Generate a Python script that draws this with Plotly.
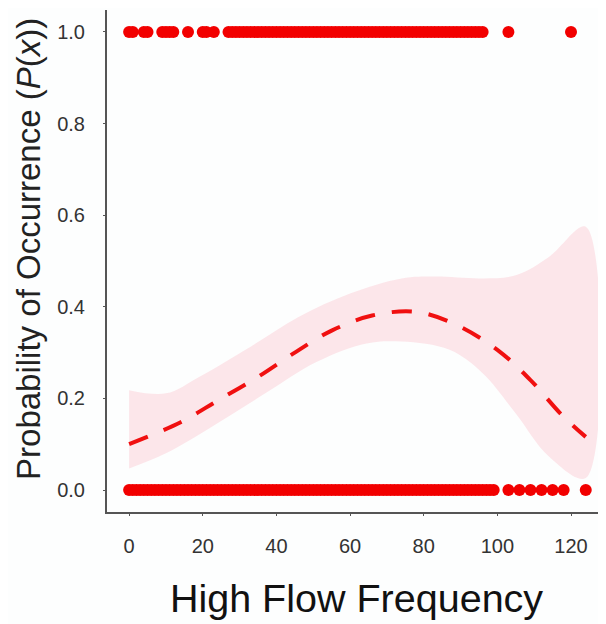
import plotly.graph_objects as go

# Observed presences (y=1) and absences (y=0)
presence_x = [0, 1, 4, 5, 9, 10, 11, 12, 16, 20, 21, 23] + list(range(27, 97)) + [103, 120]
absence_x = list(range(0, 100)) + [103, 106, 109, 112, 115, 118, 124]

# Fitted probability curve and confidence band
fit_x = [0, 14, 24, 35, 45, 55, 66, 78, 89, 100, 109, 117.5, 124]
fit_y = [0.10, 0.148, 0.195, 0.247, 0.300, 0.348, 0.381, 0.389, 0.360, 0.306, 0.240, 0.164, 0.116]

band_x = [0, 10, 19, 33, 46, 60, 74, 83, 96, 105, 114, 124]
band_upper = [0.218, 0.211, 0.247, 0.313, 0.378, 0.429, 0.462, 0.466, 0.462, 0.469, 0.509, 0.575]
band_lower_x = [0, 10, 24, 37, 51, 64.5, 74, 87, 96, 105, 114, 124]
band_lower = [0.047, 0.080, 0.146, 0.211, 0.280, 0.320, 0.324, 0.306, 0.255, 0.167, 0.073, 0.026]

x_ticks = [0, 20, 40, 60, 80, 100, 120]
y_ticks = [0.0, 0.2, 0.4, 0.6, 0.8, 1.0]
y_tick_labels = ["0.0", "0.2", "0.4", "0.6", "0.8", "1.0"]

fig = go.Figure()

fig.add_trace(go.Scatter(
    x=band_x + band_lower_x[::-1],
    y=band_upper + band_lower[::-1],
    fill="toself", fillcolor="rgba(250,40,70,0.11)",
    line=dict(width=0, shape="spline"), mode="lines", hoverinfo="skip", showlegend=False))

fig.add_trace(go.Scatter(
    x=fit_x, y=fit_y, mode="lines",
    line=dict(color="#f01010", width=4, dash="20px,17px", shape="spline"),
    showlegend=False))

fig.add_trace(go.Scatter(
    x=presence_x, y=[1] * len(presence_x), mode="markers",
    marker=dict(color="#f20000", size=12), showlegend=False))
fig.add_trace(go.Scatter(
    x=absence_x, y=[0] * len(absence_x), mode="markers",
    marker=dict(color="#f20000", size=12), showlegend=False))

font_family = "Liberation Sans, Arial, sans-serif"
fig.update_layout(
    width=598, height=616,
    margin=dict(l=99, r=0, t=2, b=112),
    paper_bgcolor="#fdfefe", plot_bgcolor="#fdfefe",
    font=dict(family=font_family, color="#222"),
    xaxis=dict(
        range=[-6, 129.5], tickvals=x_ticks, ticktext=[str(v) for v in x_ticks],
        showgrid=False, zeroline=False, showline=True, linecolor="#555", linewidth=2,
        ticks="outside", ticklen=2, tickcolor="#555", tickwidth=1,
        ticklabelstandoff=13, automargin=False,
        tickfont=dict(size=20, color="#333"),
        title=dict(text="High Flow Frequency", font=dict(size=39.5, color="#111"), standoff=28),
    ),
    yaxis=dict(
        range=[-0.048, 1.048], tickvals=y_ticks, ticktext=y_tick_labels,
        showgrid=False, zeroline=False, showline=True, linecolor="#555", linewidth=2,
        ticks="outside", ticklen=2, tickcolor="#555", tickwidth=1,
        ticklabelstandoff=14, automargin=False,
        tickfont=dict(size=20, color="#333"),
    ),
    annotations=[dict(
        text="Probability of Occurrence (<i>P</i>(<i>x</i>))",
        xref="paper", yref="paper", x=0, y=0.524, xanchor="center", yanchor="middle",
        xshift=-78, textangle=-90, showarrow=False,
        font=dict(size=33, color="#222", family=font_family),
    )],
)

fig.write_html("out.html")
